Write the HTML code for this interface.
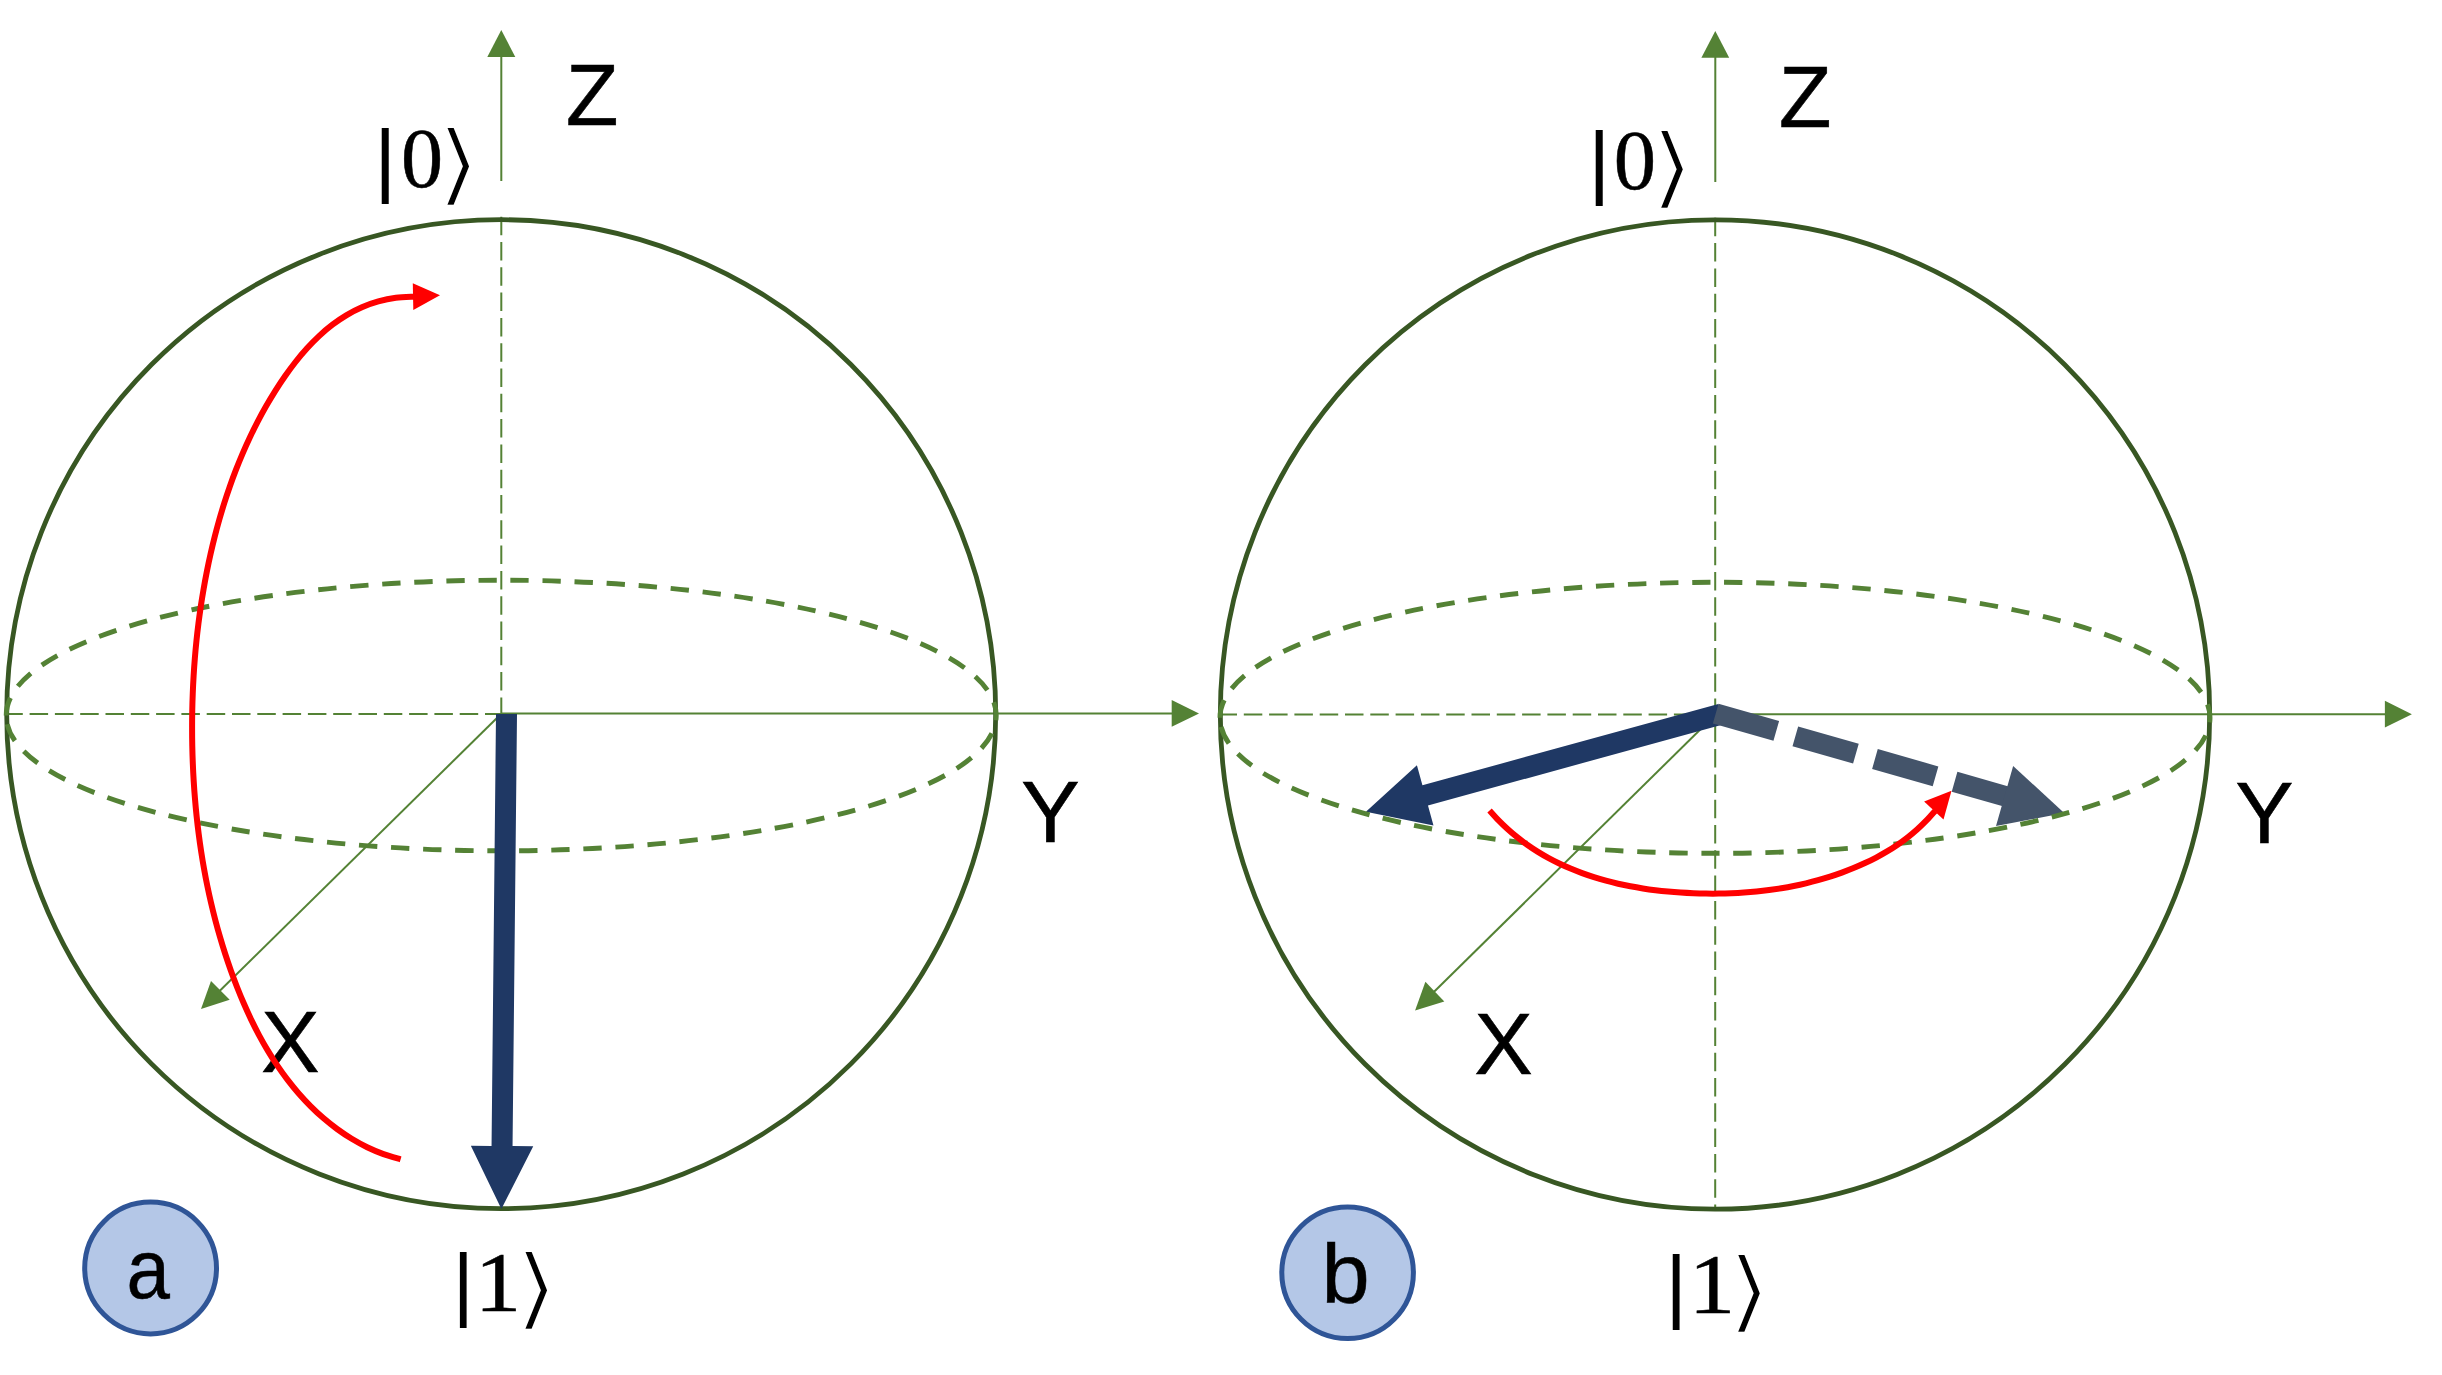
<!DOCTYPE html>
<html lang="en"><head><meta charset="utf-8"><title>Bloch sphere rotations</title>
<style>html,body{margin:0;padding:0;background:#fff}body{width:2442px;height:1375px;overflow:hidden}svg{display:block}.s{font-family:"Liberation Sans",Arial,sans-serif;fill:#000}.r{font-family:"Liberation Serif","DejaVu Serif",serif;fill:#000}.m{font-family:"DejaVu Sans","DejaVu Math TeX Gyre",sans-serif;fill:#000}</style></head><body>
<svg width="2442" height="1375" viewBox="0 0 2442 1375">
<rect width="2442" height="1375" fill="#fff"/>
<g id="labels">
<circle cx="150.6" cy="1268" r="65.9" fill="#B4C7E7" stroke="#2F5597" stroke-width="5"/>
<circle cx="1347.6" cy="1272.7" r="65.8" fill="#B4C7E7" stroke="#2F5597" stroke-width="5"/>
<text><tspan class="s" font-size="87.2" x="565.69" y="124.8" textLength="52.74" lengthAdjust="spacingAndGlyphs" stroke="#000" stroke-width="0.5">Z</tspan></text>
<text><tspan class="s" font-size="87.2" x="1778.69" y="126.8" textLength="52.74" lengthAdjust="spacingAndGlyphs" stroke="#000" stroke-width="0.5">Z</tspan></text>
<text><tspan class="s" font-size="87.2" x="261.11" y="1071.9" textLength="58.68" lengthAdjust="spacingAndGlyphs" stroke="#000" stroke-width="0.5">X</tspan></text>
<text><tspan class="s" font-size="87.2" x="1474.32" y="1073.8" textLength="58.58" lengthAdjust="spacingAndGlyphs" stroke="#000" stroke-width="0.5">X</tspan></text>
<text><tspan class="s" font-size="87.2" x="1021.11" y="842" textLength="58.78" lengthAdjust="spacingAndGlyphs" stroke="#000" stroke-width="0.5">Y</tspan></text>
<text><tspan class="s" font-size="87.2" x="2235.33" y="842.9" textLength="58.35" lengthAdjust="spacingAndGlyphs" stroke="#000" stroke-width="0.5">Y</tspan></text>
<text><tspan class="s" font-size="84" x="126.47" y="1298.3" textLength="43.38" lengthAdjust="spacingAndGlyphs" stroke="#000" stroke-width="0.5">a</tspan></text>
<text><tspan class="s" font-size="82.9" x="1321.60" y="1303.0" textLength="48.19" lengthAdjust="spacingAndGlyphs" stroke="#000" stroke-width="0.5">b</tspan></text>
<text><tspan class="s" font-size="81.4" x="373.91" y="186.9432" textLength="22.47" lengthAdjust="spacingAndGlyphs">|</tspan><tspan class="r" font-size="84.6" x="401.05" y="186.8" textLength="42.10" lengthAdjust="spacingAndGlyphs" stroke="#000" stroke-width="0.5">0</tspan><tspan class="m" font-size="89" x="436.00" y="194.30" textLength="45.14" lengthAdjust="spacingAndGlyphs" stroke="#fff" stroke-width="2.5">⟩</tspan></text>
<text><tspan class="s" font-size="81.4" x="1587.91" y="188.9432" textLength="22.47" lengthAdjust="spacingAndGlyphs">|</tspan><tspan class="r" font-size="84.6" x="1613.83" y="188.6" textLength="42.33" lengthAdjust="spacingAndGlyphs" stroke="#000" stroke-width="0.5">0</tspan><tspan class="m" font-size="89" x="1649.80" y="196.50" textLength="45.14" lengthAdjust="spacingAndGlyphs" stroke="#fff" stroke-width="2.5">⟩</tspan></text>
<text><tspan class="s" font-size="81.4" x="452.49" y="1310.9432" textLength="21.51" lengthAdjust="spacingAndGlyphs">|</tspan><tspan class="r" font-size="85.2" x="474.88" y="1310.6" textLength="46.45" lengthAdjust="spacingAndGlyphs" stroke="#000" stroke-width="0.5">1</tspan><tspan class="m" font-size="89" x="514.00" y="1318.30" textLength="45.14" lengthAdjust="spacingAndGlyphs" stroke="#fff" stroke-width="2.5">⟩</tspan></text>
<text><tspan class="s" font-size="81.4" x="1665.33" y="1312.9432" textLength="21.83" lengthAdjust="spacingAndGlyphs">|</tspan><tspan class="r" font-size="85.2" x="1688.88" y="1312.8" textLength="46.45" lengthAdjust="spacingAndGlyphs" stroke="#000" stroke-width="0.5">1</tspan><tspan class="m" font-size="89" x="1726.80" y="1320.50" textLength="45.14" lengthAdjust="spacingAndGlyphs" stroke="#fff" stroke-width="2.5">⟩</tspan></text>
</g>
<g id="sphere-a">
<g stroke="#548235" stroke-width="2.0" fill="none">
<line x1="501.3" y1="181" x2="501.3" y2="56"/>
<line x1="501.3" y1="216.7" x2="501.3" y2="714" stroke-dasharray="18.5 6.8"/>
<line x1="4.3" y1="714" x2="501" y2="714" stroke-dasharray="18.5 6.8"/>
<line x1="501" y1="713.5" x2="1173" y2="713.5"/>
<line x1="501" y1="714" x2="214" y2="996.5"/>
</g>
<g fill="#548235">
<polygon points="501.3,30 487.3,57 515.3,57"/>
<polygon points="1199,713.4 1171.7,700 1171.7,726.8"/>
<polygon points="201,1009 211,981 229.7,999.8"/>
</g>
<circle cx="501.2" cy="714.2" r="494.5" fill="none" stroke="#385723" stroke-width="4.8"/>
<path d="M6.20 715.5 A495 135.3 0 0 1 996.20 715.5 A495 135.3 0 0 1 6.20 715.5" fill="none" stroke="#548235" stroke-width="4.9" stroke-dasharray="18.34 13.744"/>
<polygon fill="#1F3864" points="496.00,713.89 491.55,1145.90 470.85,1145.68 501.40,1209.00 533.25,1146.32 512.55,1146.11 517.00,714.11"/>
<path d="M400.61 1159.29 C397.75 1158.43 389.06 1156.11 383.49 1154.09 C377.91 1152.08 372.48 1149.75 367.18 1147.20 C361.88 1144.65 356.72 1141.82 351.71 1138.79 C346.69 1135.76 341.81 1132.47 337.09 1129.01 C332.36 1125.56 327.77 1121.87 323.33 1118.05 C318.90 1114.22 314.60 1110.19 310.47 1106.05 C306.33 1101.91 302.34 1097.60 298.50 1093.20 C294.67 1088.79 290.98 1084.25 287.44 1079.62 C283.89 1074.98 280.50 1070.23 277.22 1065.39 C273.95 1060.56 270.82 1055.62 267.81 1050.60 C264.80 1045.59 261.92 1040.48 259.14 1035.32 C256.37 1030.15 253.72 1024.90 251.17 1019.61 C248.62 1014.31 246.19 1008.95 243.85 1003.56 C241.50 998.16 239.26 992.70 237.11 987.23 C234.95 981.76 232.90 976.24 230.92 970.71 C228.94 965.17 227.04 959.61 225.23 954.03 C223.42 948.44 221.69 942.83 220.05 937.20 C218.40 931.57 216.83 925.91 215.34 920.24 C213.86 914.57 212.45 908.87 211.12 903.16 C209.78 897.45 208.53 891.72 207.35 885.98 C206.17 880.23 205.06 874.47 204.03 868.69 C202.99 862.92 202.03 857.13 201.14 851.33 C200.25 845.53 199.43 839.72 198.68 833.89 C197.93 828.07 197.25 822.24 196.63 816.40 C196.01 810.56 195.46 804.71 194.98 798.86 C194.49 793.01 194.07 787.15 193.71 781.28 C193.35 775.42 193.05 769.56 192.82 763.69 C192.58 757.82 192.40 751.95 192.28 746.08 C192.16 740.22 192.10 734.35 192.10 728.48 C192.09 722.62 192.14 716.75 192.25 710.89 C192.36 705.03 192.53 699.18 192.76 693.33 C192.99 687.47 193.27 681.63 193.62 675.78 C193.97 669.94 194.38 664.10 194.85 658.27 C195.32 652.44 195.86 646.62 196.46 640.80 C197.06 634.98 197.73 629.17 198.46 623.37 C199.19 617.57 199.99 611.77 200.85 605.99 C201.72 600.20 202.65 594.43 203.66 588.66 C204.66 582.90 205.74 577.14 206.88 571.39 C208.03 565.65 209.24 559.91 210.53 554.19 C211.83 548.47 213.19 542.76 214.63 537.07 C216.07 531.38 217.59 525.70 219.19 520.05 C220.80 514.40 222.48 508.77 224.25 503.17 C226.02 497.56 227.87 491.98 229.82 486.44 C231.76 480.89 233.79 475.38 235.92 469.90 C238.05 464.42 240.26 458.97 242.58 453.57 C244.90 448.16 247.31 442.79 249.83 437.47 C252.35 432.15 254.96 426.87 257.68 421.64 C260.41 416.42 263.23 411.23 266.17 406.11 C269.10 400.98 272.15 395.90 275.30 390.89 C278.46 385.88 281.73 380.89 285.12 376.04 C288.52 371.18 292.03 366.38 295.68 361.75 C299.33 357.12 303.11 352.59 307.04 348.27 C310.97 343.95 315.04 339.76 319.27 335.83 C323.51 331.90 327.89 328.14 332.45 324.68 C337.01 321.22 341.72 317.97 346.63 315.06 C351.53 312.15 356.61 309.49 361.88 307.21 C367.16 304.93 372.61 302.95 378.28 301.38 C383.94 299.81 389.80 298.57 395.88 297.80 C401.96 297.02 411.61 296.89 414.76 296.71" fill="none" stroke="#FF0000" stroke-width="6"/>
<polygon fill="#FF0000" points="440,295.3 412.8,283.2 413.3,309.9"/>
</g>
<g id="sphere-b">
<g stroke="#548235" stroke-width="2.0" fill="none">
<line x1="1715.3" y1="182" x2="1715.3" y2="57"/>
<line x1="1715.2" y1="217.8" x2="1715.2" y2="1209" stroke-dasharray="18.5 6.8"/>
<line x1="1218.5" y1="714.5" x2="1715" y2="714.5" stroke-dasharray="18.5 6.8"/>
<line x1="1715" y1="714.2" x2="2386" y2="714.2"/>
<line x1="1715" y1="715" x2="1429" y2="996.8"/>
</g>
<g fill="#548235">
<polygon points="1715.3,31 1701.4,57.7 1729.2,57.7"/>
<polygon points="2411.9,714.2 2384.9,700.8 2384.9,727.6"/>
<polygon points="1415.1,1010.4 1425.4,981.8 1444.3,1001.4"/>
</g>
<circle cx="1715" cy="714.5" r="494.7" fill="none" stroke="#385723" stroke-width="4.8"/>
<polygon fill="#1F3864" points="1718.32,703.98 1422.42,785.28 1416.92,765.27 1365.90,811.70 1433.48,825.54 1427.98,805.53 1723.88,724.22"/>
<line x1="1715.7" y1="713.6" x2="2007.46" y2="796.82" stroke="#44546A" stroke-width="20.6" stroke-dasharray="63 19.8"/>
<polygon fill="#44546A" points="2064.20,813.00 1996.01,826.05 2013.15,765.94"/>
<path d="M1220.00 717.8 A495 135.5 0 0 1 2210.00 717.8 A495 135.5 0 0 1 1220.00 717.8" fill="none" stroke="#548235" stroke-width="4.9" stroke-dasharray="18.34 13.744"/>
<path d="M1489.58 810.45 C1491.04 812.05 1495.35 816.98 1498.34 820.07 C1501.34 823.16 1504.41 826.12 1507.55 828.97 C1510.69 831.82 1513.90 834.55 1517.17 837.17 C1520.45 839.80 1523.79 842.30 1527.18 844.71 C1530.58 847.11 1534.04 849.40 1537.56 851.59 C1541.07 853.78 1544.64 855.87 1548.27 857.86 C1551.89 859.84 1555.56 861.73 1559.28 863.52 C1563.00 865.31 1566.77 867.00 1570.58 868.61 C1574.39 870.21 1578.25 871.72 1582.14 873.15 C1586.03 874.57 1589.97 875.91 1593.93 877.16 C1597.89 878.42 1601.89 879.58 1605.92 880.67 C1609.95 881.76 1614.01 882.77 1618.09 883.71 C1622.17 884.64 1626.28 885.50 1630.41 886.29 C1634.54 887.08 1638.69 887.79 1642.86 888.44 C1647.02 889.09 1651.21 889.67 1655.40 890.19 C1659.60 890.71 1663.81 891.16 1668.02 891.55 C1672.23 891.95 1676.46 892.28 1680.68 892.56 C1684.91 892.85 1689.14 893.07 1693.36 893.24 C1697.59 893.41 1701.82 893.53 1706.05 893.60 C1710.27 893.66 1714.50 893.67 1718.71 893.61 C1722.93 893.56 1727.15 893.45 1731.36 893.28 C1735.56 893.11 1739.77 892.89 1743.96 892.59 C1748.15 892.30 1752.34 891.95 1756.51 891.53 C1760.68 891.11 1764.85 890.63 1769.00 890.08 C1773.14 889.53 1777.28 888.92 1781.40 888.24 C1785.53 887.55 1789.63 886.80 1793.72 885.98 C1797.81 885.16 1801.89 884.27 1805.94 883.30 C1809.99 882.33 1814.03 881.30 1818.04 880.18 C1822.05 879.07 1826.04 877.89 1830.01 876.62 C1833.98 875.36 1837.93 874.02 1841.84 872.60 C1845.76 871.17 1849.66 869.68 1853.51 868.09 C1857.37 866.51 1861.20 864.84 1864.98 863.08 C1868.75 861.32 1872.50 859.48 1876.18 857.53 C1879.86 855.58 1883.50 853.54 1887.07 851.40 C1890.64 849.25 1894.16 847.01 1897.60 844.66 C1901.04 842.30 1904.42 839.85 1907.72 837.27 C1911.01 834.70 1914.24 832.01 1917.37 829.21 C1920.50 826.40 1923.55 823.48 1926.50 820.43 C1929.45 817.38 1933.64 812.50 1935.07 810.91" fill="none" stroke="#FF0000" stroke-width="6"/>
<polygon fill="#FF0000" points="1951.5,790.7 1924.1,801.6 1943.5,819.6"/>
</g>
</svg></body></html>
